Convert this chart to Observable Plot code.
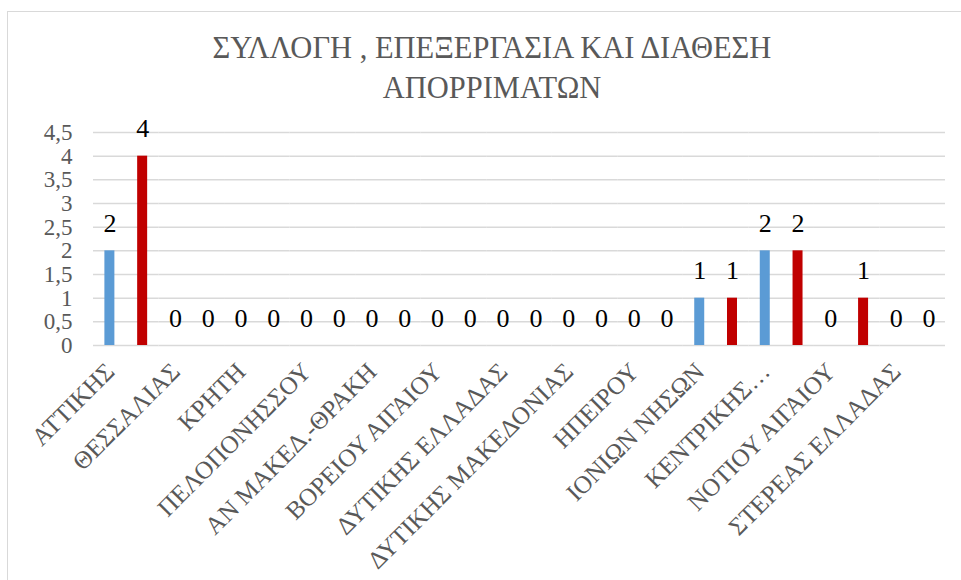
<!DOCTYPE html>
<html>
<head>
<meta charset="utf-8">
<script src="https://cdn.jsdelivr.net/npm/d3@7"></script>
<script src="https://cdn.jsdelivr.net/npm/@observablehq/plot@0.6"></script>
<style>
  html, body { margin: 0; padding: 0; background: #fff; }
  #wrap { position: relative; width: 961px; height: 580px; overflow: hidden; background: #fff; }
  #frame { position: absolute; left: 7px; top: 11px; width: 1100px; height: 800px; border: 1.5px solid #d9d9d9; box-sizing: border-box; }
  #title { position: absolute; left: 0; top: 28px; width: 984px; text-align: center;
           font-family: "Liberation Serif", "Times New Roman", serif;
           font-size: 30.5px; line-height: 40px; color: #595959; }
  #chart { position: absolute; left: 0; top: 0; }
</style>
</head>
<body>
<div id="wrap">
  <div id="frame"></div>
  <div id="title"><div>ΣΥΛΛΟΓΗ , ΕΠΕΞΕΡΓΑΣΙΑ ΚΑΙ ΔΙΑΘΕΣΗ</div><div>ΑΠΟΡΡΙΜΑΤΩΝ</div></div>
  <div id="chart"></div>
</div>
<script>
const regions = ["ΑΤΤΙΚΗΣ", "ΘΕΣΣΑΛΙΑΣ", "ΚΡΗΤΗ", "ΠΕΛΟΠΟΝΗΣΣΟΥ", "ΑΝ ΜΑΚΕΔ.-ΘΡΑΚΗ", "ΒΟΡΕΙΟΥ ΑΙΓΑΙΟΥ", "ΔΥΤΙΚΗΣ ΕΛΛΑΔΑΣ", "ΔΥΤΙΚΗΣ ΜΑΚΕΔΟΝΙΑΣ", "ΗΠΕΙΡΟΥ", "ΙΟΝΙΩΝ ΝΗΣΩΝ", "ΚΕΝΤΡΙΚΗΣ…", "ΝΟΤΙΟΥ ΑΙΓΑΙΟΥ", "ΣΤΕΡΕΑΣ ΕΛΛΑΔΑΣ"];
const seriesNames = ["Σειρά1", "Σειρά2"];
const series1 = [2, 0, 0, 0, 0, 0, 0, 0, 0, 1, 2, 0, 0];
const series2 = [4, 0, 0, 0, 0, 0, 0, 0, 0, 1, 2, 1, 0];
const colors = ["#5B9BD5", "#C00000"];
const yTicks = [0, 0.5, 1, 1.5, 2, 2.5, 3, 3.5, 4, 4.5];

const data = regions.flatMap((r, i) => [
  {region: r, series: seriesNames[0], value: series1[i]},
  {region: r, series: seriesNames[1], value: series2[i]}
]);

const font = "'Liberation Serif', 'Times New Roman', serif";

const chart = Plot.plot({
  width: 961,
  height: 580,
  marginLeft: 93,
  marginRight: 16,
  marginTop: 132,
  marginBottom: 235,
  style: {fontFamily: font, fontSize: "23px", background: "transparent", overflow: "visible"},
  fx: {domain: regions, padding: 0, round: false, label: null},
  x: {domain: seriesNames, paddingInner: 0.695, paddingOuter: 0.3475, round: false, axis: null},
  y: {domain: [0, 4.5], label: null},
  color: {domain: seriesNames, range: colors},
  marks: [
    Plot.gridY(yTicks, {stroke: "#d9d9d9", strokeOpacity: 1, strokeWidth: 1.5}),
    Plot.axisY({ticks: yTicks, tickSize: 0, tickPadding: 21, fontSize: 23, fill: "#595959", fontFamily: font,
                tickFormat: d => String(d).replace(".", ","), label: null}),
    Plot.axisFx({anchor: "bottom", tickRotate: -45, tickSize: 0, tickPadding: 0, dx: -16, dy: 22, fontSize: 25,
                 fill: "#595959", fontFamily: font, label: null}),
    Plot.barY(data, {fx: "region", x: "series", y: "value", fill: "series"}),
    Plot.text(data, {fx: "region", x: "series", y: "value", text: d => String(d.value),
                     dy: -27, fontSize: 26, fill: "#000", fontFamily: font})
  ]
});
document.getElementById("chart").appendChild(chart);
</script>
</body>
</html>
